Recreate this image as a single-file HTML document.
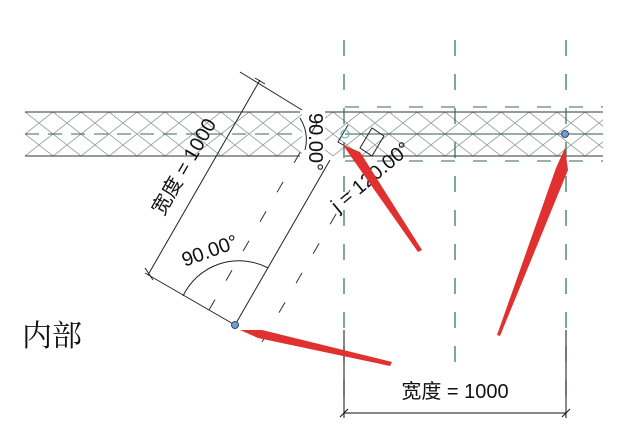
<!DOCTYPE html>
<html><head><meta charset="utf-8"><style>
html,body{margin:0;padding:0;background:#fff}
svg{display:block}
text{font-family:"Liberation Sans","Noto Sans CJK SC",sans-serif;fill:#111}
</style></head><body>
<svg width="617" height="438" viewBox="0 0 617 438" xmlns="http://www.w3.org/2000/svg">
<defs>
<pattern id="h" width="28" height="22" patternUnits="userSpaceOnUse" x="25" y="112">
<path d="M0 0L28 22M28 0L0 22" stroke="#8a9a98" stroke-width="0.8" fill="none"/>
</pattern>
</defs>
<rect x="25" y="112" width="277" height="44" fill="url(#h)"/>
<rect x="325" y="112" width="278" height="44" fill="url(#h)"/>
<g stroke="#333" stroke-width="1">
<line x1="25" y1="112" x2="300" y2="112"/><line x1="25" y1="156" x2="300" y2="156"/>
<line x1="325" y1="112" x2="603" y2="112"/><line x1="345" y1="156" x2="603" y2="156"/>
<line x1="345" y1="134" x2="603" y2="134" stroke="#2c5a48"/>
</g>
<line x1="25" y1="134" x2="300" y2="134" stroke="#3a6a58" stroke-dasharray="14,9"/>
<g stroke="#2f6a50" stroke-width="1.2" stroke-dasharray="16,18">
<line x1="344" y1="40" x2="344" y2="400"/>
<line x1="455" y1="40" x2="455" y2="380"/>
<line x1="566" y1="40" x2="566" y2="400"/>
</g>
<g stroke="#2f6a50" stroke-dasharray="14,18"><line x1="345" y1="107" x2="603" y2="107"/><line x1="345" y1="161" x2="603" y2="161"/></g>
<g stroke="#111" stroke-width="1">
<line x1="344" y1="413" x2="566" y2="413"/>
<line x1="344" y1="330" x2="344" y2="418"/><line x1="566" y1="330" x2="566" y2="418"/>
<line x1="340" y1="417" x2="348" y2="409"/><line x1="562" y1="417" x2="570" y2="409"/>
</g>
<text x="455" y="398" font-size="20" text-anchor="middle">宽度 = 1000</text>
<g stroke="#222" stroke-width="1" fill="none">
<line x1="235" y1="325" x2="145" y2="273"/>
<line x1="235" y1="325" x2="330" y2="160"/>
<line x1="148" y1="275" x2="260" y2="80"/>
<line x1="240" y1="72" x2="302" y2="110"/>
<line x1="145" y1="268" x2="153" y2="280"/>
<line x1="255" y1="78" x2="265" y2="84"/>
<path d="M183 296 A62 62 0 0 1 268 268"/>
<path d="M300 118 A40 40 0 0 1 305 150"/>
<path d="M348 125 L338 142 L352 150"/>
<path d="M360 148 l12 -20 l12 8 l-12 20z"/>
</g>
<g stroke="#333" stroke-width="1" stroke-dasharray="12,22">
<line x1="209" y1="310" x2="320" y2="118"/>
<line x1="262" y1="342" x2="350" y2="190"/>
</g>
<circle cx="235" cy="325" r="3.5" fill="#6a9fd8" stroke="#446"/>
<circle cx="565" cy="134" r="3.5" fill="#6a9fd8" stroke="#446"/>
<circle cx="345" cy="134" r="4" fill="none" stroke="#5aa"/>
<text transform="translate(190,170) rotate(-60)" font-size="20" text-anchor="middle">宽度 = 1000</text>
<text transform="translate(212,257) rotate(-20)" font-size="20" text-anchor="middle">90.00°</text>
<text transform="translate(309,142) rotate(90)" font-size="20" text-anchor="middle">90.00°</text>
<text transform="translate(375,182) rotate(-40)" font-size="20" text-anchor="middle">j = 120.00°</text>
<text x="22" y="346" font-size="30" style="font-family:'Noto Serif CJK SC','Noto Sans CJK SC',serif">内部</text>
<g fill="#e03030">
<polygon points="422,250 418,252 352,158 343,145 360,152"/>
<polygon points="500,336 497,335 556,168 565,148 568,170"/>
<polygon points="392,362 390,366 258,338 240,330 262,330"/>
</g>
</svg>
</body></html>
